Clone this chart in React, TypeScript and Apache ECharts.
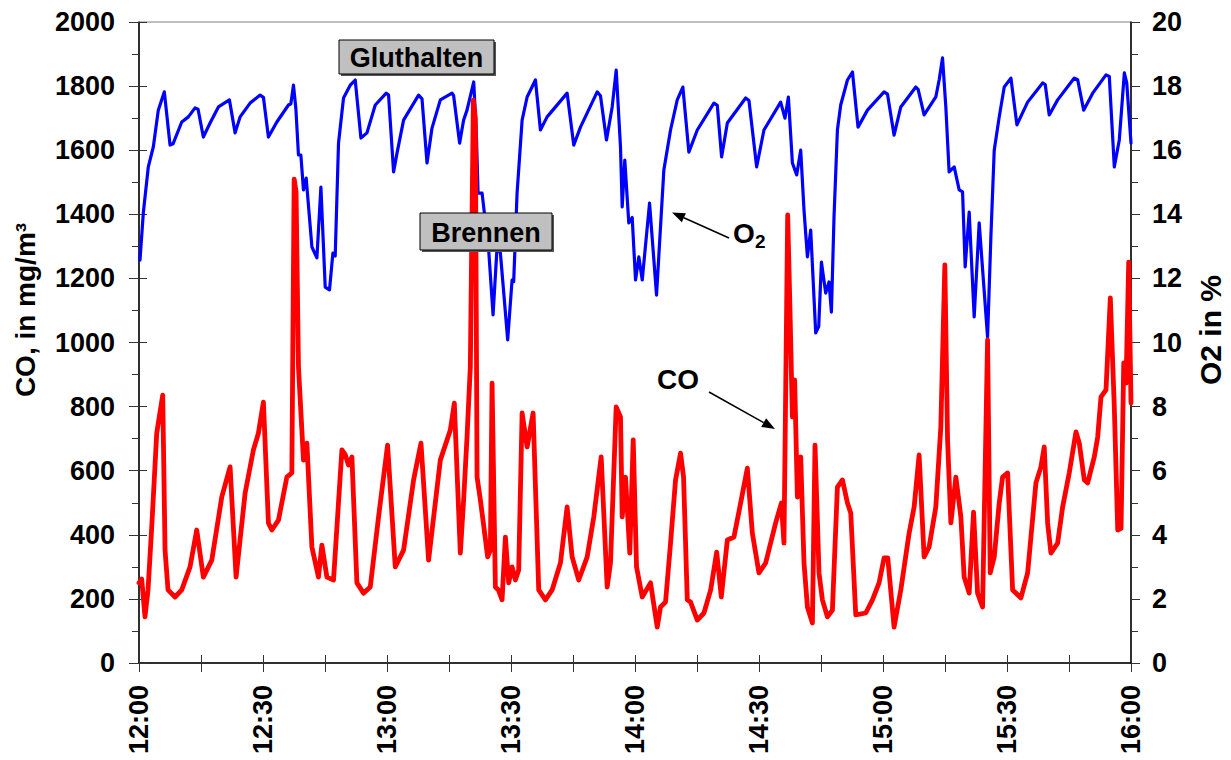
import React, { useEffect, useRef } from "react";
import * as echarts from "echarts";

// Minutes after 12:00 and measured CO concentration (mg/m³)
const coPoints: [number, number][] = [
  [0, 250], [0.65, 262], [1.45, 144], [2.18, 228], [3.08, 424], [4.29, 717], [5.74, 836],
  [6.3, 352], [7.02, 228], [8.72, 206], [10.34, 228], [12.35, 300], [13.97, 415], [15.57, 268],
  [17.61, 321], [20.03, 518], [22.04, 612], [23.49, 268], [25.67, 530], [27.68, 665],
  [28.89, 717], [30.1, 814], [31.31, 437], [32.14, 415], [33.74, 446], [35.77, 580],
  [36.98, 593], [37.54, 1510], [38.0, 1470], [38.58, 924], [39.79, 633], [40.62, 686],
  [41.83, 362], [43.42, 268], [44.25, 368], [45.46, 268], [47.06, 259], [49.09, 665],
  [49.9, 650], [50.68, 618], [51.51, 643], [52.72, 250], [54.32, 218], [55.95, 237],
  [57.96, 456], [60.14, 680], [62.0, 300], [64.01, 352], [66.43, 571], [68.22, 686],
  [70.06, 321], [72.9, 633], [75.32, 727], [76.29, 811], [77.74, 343], [78.54, 509],
  [79.36, 705], [80.16, 924], [80.89, 1756], [81.37, 1700], [81.79, 580], [82.59, 509],
  [83.31, 437], [84.35, 331], [85.01, 352], [85.42, 873], [86.22, 237], [86.95, 228],
  [87.84, 197], [88.64, 393], [89.44, 250], [90.26, 300], [91.06, 259], [91.86, 290],
  [92.69, 780], [93.9, 674], [95.35, 780], [96.71, 228], [98.33, 197], [99.95, 228],
  [101.96, 312], [103.58, 487], [104.79, 331], [106.39, 259], [108.43, 331], [110.03, 456],
  [111.82, 643], [113.27, 237], [114.07, 312], [115.45, 799], [116.49, 768], [116.9, 456],
  [117.7, 580], [118.74, 343], [119.57, 696], [120.37, 300], [121.75, 206], [123.76, 250],
  [125.38, 112], [126.18, 175], [127.39, 190], [128.6, 374], [129.81, 571], [131.02, 655],
  [131.75, 580], [132.65, 197], [133.45, 190], [135.07, 134], [136.68, 156], [138.31, 228],
  [139.76, 346], [140.88, 206], [142.34, 384], [143.94, 393], [145.56, 499], [147.18, 608],
  [148.39, 405], [149.99, 281], [151.61, 312], [154.03, 437], [155.41, 499], [156.04, 374],
  [156.94, 1398], [157.5, 1100], [158.08, 768], [158.63, 883], [159.29, 518], [160.09, 643],
  [160.89, 312], [161.71, 175], [162.92, 125], [163.55, 680], [164.52, 281], [165.34, 197],
  [166.55, 144], [167.76, 165], [168.97, 549], [170.19, 571], [171.4, 499], [172.2, 468],
  [173.41, 150], [175.83, 156], [177.45, 197], [179.05, 250], [180.26, 328], [181.16, 328],
  [182.68, 112], [184.31, 228], [186.32, 405], [187.53, 487], [188.74, 649], [189.95, 331],
  [191.16, 362], [192.78, 487], [193.99, 736], [194.96, 1242], [195.62, 696], [196.42, 437],
  [197.63, 580], [198.84, 456], [199.64, 268], [200.85, 218], [201.91, 471], [202.88, 218],
  [204.09, 175], [205.3, 1008], [205.94, 281], [206.91, 331], [208.12, 499], [208.93, 580],
  [210.15, 593], [211.36, 228], [213.37, 203], [214.99, 281], [217.0, 562], [218.21, 612],
  [219.01, 674], [219.83, 437], [220.63, 343], [222.25, 374], [223.46, 487], [225.06, 593],
  [226.69, 721], [227.49, 686], [228.7, 571], [229.52, 562], [231.12, 643], [231.94, 705],
  [232.74, 830], [233.95, 852], [235.0, 1139], [235.96, 799], [236.79, 415], [237.59, 420],
  [238.24, 936], [238.8, 873], [239.45, 1251], [240, 811],
];

// Minutes after 12:00 and measured O2 content (%)
const o2Points: [number, number][] = [
  [0.24, 12.57], [1.04, 14.04], [2.25, 15.48], [3.46, 16.1], [4.67, 17.25], [6.13, 17.82],
  [7.51, 16.16], [8.23, 16.2], [10.34, 16.88], [11.94, 17.04], [13.56, 17.32], [14.29, 17.28],
  [15.57, 16.41], [17.2, 16.85], [19.21, 17.35], [21.87, 17.57], [23.25, 16.54], [24.46, 17.04],
  [26.88, 17.47], [29.3, 17.72], [30.1, 17.65], [31.31, 16.41], [33.35, 16.88], [36.16, 17.41],
  [36.74, 17.45], [37.37, 18.03], [37.95, 17.3], [38.58, 15.85], [39.16, 15.85], [39.79, 14.76],
  [40.45, 15.13], [41.83, 12.98], [43.04, 12.64], [44.01, 14.85], [45.05, 11.73], [46.09, 11.64],
  [46.91, 12.79], [47.47, 12.7], [48.27, 16.22], [49.48, 17.63], [51.1, 18.03], [52.31, 18.19],
  [53.69, 16.38], [55.15, 16.54], [57.16, 17.41], [59.82, 17.78], [60.38, 17.72], [61.59, 15.32],
  [62.41, 15.9], [64.01, 16.94], [67.64, 17.72], [68.47, 17.6], [69.68, 15.6], [70.89, 16.69],
  [72.9, 17.57], [75.73, 17.78], [76.12, 17.7], [77.57, 16.22], [78.54, 16.94], [79.36, 17.25],
  [80.98, 18.13], [81.62, 16.5], [82.03, 14.66], [83.0, 14.66], [84.6, 12.89], [85.66, 10.86],
  [86.63, 12.98], [87.43, 12.8], [89.2, 10.08], [90.26, 11.95], [90.65, 11.9], [91.47, 14.66],
  [92.69, 16.94], [93.9, 17.66], [95.91, 18.19], [97.12, 16.63], [98.74, 17.04], [103.58, 17.78],
  [105.18, 16.16], [106.81, 16.72], [110.85, 17.82], [111.65, 17.7], [113.1, 16.32],
  [114.48, 17.35], [115.45, 18.5], [116.49, 16.1], [116.9, 14.23], [117.53, 15.69],
  [118.5, 13.73], [119.32, 13.9], [120.13, 11.95], [120.93, 12.67], [121.75, 11.95],
  [123.52, 14.35], [125.21, 11.48], [126.98, 15.38], [128.6, 16.63], [130.22, 17.57],
  [131.58, 17.97], [133.03, 15.94], [135.07, 16.63], [139.09, 17.47], [139.91, 17.4],
  [140.95, 15.79], [142.34, 16.85], [146.77, 17.63], [147.57, 17.55], [149.43, 15.48],
  [151.2, 16.63], [155.24, 17.5], [156.28, 17.0], [157.11, 17.66], [158.08, 15.6],
  [159.12, 15.23], [160.09, 16.0], [160.89, 14.13], [161.71, 12.67], [162.51, 13.51],
  [163.72, 10.3], [164.45, 10.5], [165.1, 12.51], [166.14, 11.54], [166.94, 11.89],
  [167.52, 10.95], [168.15, 13.92], [168.97, 16.63], [169.77, 17.41], [171.4, 18.19],
  [172.61, 18.44], [173.96, 16.72], [176.24, 17.25], [180.26, 17.82], [181.08, 17.75],
  [182.68, 16.47], [184.31, 17.35], [187.94, 17.97], [188.5, 17.9], [189.95, 17.1],
  [192.78, 17.66], [193.58, 18.19], [194.4, 18.88], [195.2, 17.35], [196.0, 15.32],
  [197.22, 15.48], [198.43, 14.76], [199.25, 14.7], [199.88, 12.36], [200.85, 14.07],
  [202.06, 10.8], [203.27, 13.73], [205.3, 10.17], [206.1, 13.29], [206.91, 16.0],
  [208.12, 17.04], [209.33, 17.97], [210.95, 18.25], [212.4, 16.79], [214.99, 17.5],
  [218.62, 18.1], [219.25, 18.05], [220.22, 17.1], [222.25, 17.57], [226.28, 18.25],
  [227.1, 18.2], [228.55, 17.25], [230.73, 17.78], [233.95, 18.35], [234.75, 18.3],
  [235.96, 15.48], [237.17, 16.32], [238.39, 18.41], [238.97, 18.1], [240, 16.22],
];

const startHour = 12;
const FONT = "Arial, 'Liberation Sans', Helvetica, sans-serif";

function clockLabel(min: number): string {
  if (Math.round(min) % 30 !== 0) return "";
  const h = startHour + Math.floor(min / 60);
  const m = Math.round(min % 60);
  return `${h}:${m < 10 ? "0" + m : m}`;
}

function arrow(x1: number, y1: number, tx: number, ty: number) {
  const dx = tx - x1;
  const dy = ty - y1;
  const len = Math.sqrt(dx * dx + dy * dy);
  const ux = dx / len;
  const uy = dy / len;
  const head = 13;
  const half = 5;
  const bx = tx - ux * head;
  const by = ty - uy * head;
  const px = -uy * half;
  const py = ux * half;
  return [
    {
      type: "line",
      shape: { x1, y1, x2: bx, y2: by },
      style: { stroke: "#000", lineWidth: 1.5 },
      z: 20,
    },
    {
      type: "polygon",
      shape: { points: [[tx, ty], [bx + px, by + py], [bx - px, by - py]] },
      style: { fill: "#000" },
      z: 20,
    },
  ];
}

function labelBox(text: string, x: number, y: number, w: number, h: number) {
  return [
    {
      type: "rect",
      shape: { x: x + 2, y: y + 2, width: w, height: h },
      style: { fill: "#555" },
      z: 19,
    },
    {
      type: "rect",
      shape: { x, y, width: w, height: h },
      style: { fill: "#c0c0c0", stroke: "#000", lineWidth: 1 },
      z: 20,
    },
    {
      type: "text",
      x: x + w / 2,
      y: y + h / 2 + 1,
      style: {
        text,
        fill: "#000",
        font: `bold 27px ${FONT}`,
        textAlign: "center",
        textVerticalAlign: "middle",
      },
      z: 21,
    },
  ];
}

export default function App() {
  const ref = useRef<HTMLDivElement>(null);

  useEffect(() => {
    document.body.style.margin = "0";
    if (!ref.current) return;
    const chart = echarts.init(ref.current, undefined, { renderer: "svg" });

    const labelFont = {
      fontFamily: FONT,
      fontWeight: "bold" as const,
      fontSize: 27,
      color: "#000",
    };
    const tickColor = "#333";

    chart.setOption({
      animation: false,
      backgroundColor: "#fff",
      grid: {
        left: 139,
        right: 100,
        top: 22,
        bottom: 97,
        show: true,
        borderColor: "#808080",
        borderWidth: 1,
      },
      xAxis: [
        {
          type: "value",
          min: 0,
          max: 240,
          interval: 15,
          axisLine: { show: true, onZero: false, lineStyle: { color: "#000", width: 1.5 } },
          axisTick: { show: true, inside: false, length: 9, lineStyle: { color: tickColor } },
          axisLabel: { ...labelFont, rotate: 90, margin: 22, formatter: (v: number) => clockLabel(v) },
          splitLine: { show: false },
        },
        {
          type: "value",
          position: "bottom",
          min: 0,
          max: 240,
          interval: 15,
          axisLine: { show: false },
          axisTick: { show: true, inside: true, length: 8, lineStyle: { color: tickColor } },
          axisLabel: { show: false },
          splitLine: { show: false },
        },
      ],
      yAxis: [
        {
          type: "value",
          position: "left",
          min: 0,
          max: 2000,
          interval: 200,
          axisLine: { show: true, onZero: false, lineStyle: { color: "#000", width: 1.5 } },
          axisTick: { show: true, inside: false, length: 10, lineStyle: { color: tickColor } },
          minorTick: { show: true, splitNumber: 2, length: 7, lineStyle: { color: tickColor } },
          axisLabel: { ...labelFont, margin: 24, formatter: (v: number) => String(v) },
          splitLine: { show: false },
        },
        {
          type: "value",
          position: "right",
          min: 0,
          max: 20,
          interval: 2,
          axisLine: { show: true, onZero: false, lineStyle: { color: "#000", width: 1.5 } },
          axisTick: { show: true, inside: false, length: 9, lineStyle: { color: tickColor } },
          minorTick: { show: true, splitNumber: 2, length: 7, lineStyle: { color: tickColor } },
          axisLabel: { ...labelFont, margin: 21, formatter: (v: number) => String(v) },
          splitLine: { show: false },
        },
        {
          type: "value",
          position: "left",
          min: 0,
          max: 2000,
          interval: 200,
          axisLine: { show: false },
          axisTick: { show: true, inside: true, length: 8, lineStyle: { color: tickColor } },
          axisLabel: { show: false },
          splitLine: { show: false },
        },
        {
          type: "value",
          position: "right",
          min: 0,
          max: 20,
          interval: 2,
          axisLine: { show: false },
          axisTick: { show: true, inside: true, length: 10, lineStyle: { color: tickColor } },
          axisLabel: { show: false },
          splitLine: { show: false },
        },
      ],
      series: [
        {
          name: "O2",
          type: "line",
          xAxisIndex: 0,
          yAxisIndex: 1,
          data: o2Points,
          showSymbol: false,
          symbol: "none",
          lineStyle: { color: "#0000ff", width: 3.2, join: "round", cap: "round" },
          z: 3,
        },
        {
          name: "CO",
          type: "line",
          xAxisIndex: 0,
          yAxisIndex: 0,
          data: coPoints,
          showSymbol: false,
          symbol: "none",
          lineStyle: { color: "#ff0000", width: 4.8, join: "round", cap: "round" },
          z: 4,
        },
      ],
      graphic: [
        {
          type: "text",
          x: 25,
          y: 310,
          rotation: Math.PI / 2,
          style: {
            text: "CO, in mg/m³",
            fill: "#000",
            font: `bold 28px ${FONT}`,
            textAlign: "center",
            textVerticalAlign: "middle",
          },
        },
        {
          type: "text",
          x: 1210,
          y: 330,
          rotation: Math.PI / 2,
          style: {
            text: "O2 in %",
            fill: "#000",
            font: `bold 30px ${FONT}`,
            textAlign: "center",
            textVerticalAlign: "middle",
          },
        },
        ...labelBox("Gluthalten", 339, 40, 155, 34),
        ...labelBox("Brennen", 420, 213, 132, 37),
        {
          type: "text",
          x: 733,
          y: 233,
          style: {
            text: "O",
            fill: "#000",
            font: `bold 28px ${FONT}`,
            textAlign: "left",
            textVerticalAlign: "middle",
          },
          z: 20,
        },
        {
          type: "text",
          x: 755,
          y: 241,
          style: {
            text: "2",
            fill: "#000",
            font: `bold 19px ${FONT}`,
            textAlign: "left",
            textVerticalAlign: "middle",
          },
          z: 20,
        },
        ...arrow(729, 238, 672, 212.5),
        {
          type: "text",
          x: 657,
          y: 379,
          style: {
            text: "CO",
            fill: "#000",
            font: `bold 28px ${FONT}`,
            textAlign: "left",
            textVerticalAlign: "middle",
          },
          z: 20,
        },
        ...arrow(709, 392, 775, 429),
      ],
    });

    return () => chart.dispose();
  }, []);

  return <div ref={ref} style={{ width: 1231, height: 760 }} />;
}
